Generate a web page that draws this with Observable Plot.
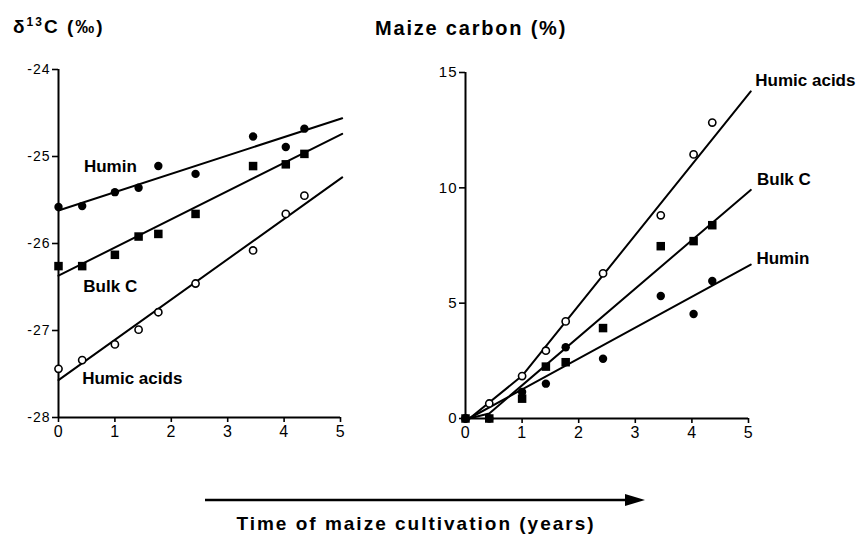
<!DOCTYPE html>
<html>
<head>
<meta charset="utf-8">
<script src="https://cdn.jsdelivr.net/npm/d3@7"></script>
<script src="https://cdn.jsdelivr.net/npm/@observablehq/plot@0.6"></script>
<style>
  html, body { margin: 0; padding: 0; background: #fff; }
  #wrap { position: relative; width: 861px; height: 538px; overflow: hidden; background: #fff; font-family: "Liberation Sans", Arial, Helvetica, sans-serif; }
  #left, #right, #overlay { position: absolute; top: 0; }
  #left { left: 0; }
  #right { left: 400px; }
  #overlay { left: 0; pointer-events: none; }
  g[aria-label="series-label"] text { letter-spacing: 0.8px; }
  g[aria-label="y-axis tick label"] text { letter-spacing: 1px; }
  g[aria-label="x-axis tick label"] text { letter-spacing: 0.6px; }
</style>
</head>
<body>
<div id="wrap">
  <div id="left"></div>
  <div id="right"></div>
  <svg id="overlay" width="861" height="538" xmlns="http://www.w3.org/2000/svg"></svg>
</div>
<script>
// ---- shared x values: time of maize cultivation (years)
const years = [0, 0.42, 1.0, 1.42, 1.77, 2.43, 3.45, 4.03, 4.36];
const xTicks = [0, 1, 2, 3, 4, 5];

// ---- left panel: delta 13C (per mille)
const d13cTicks = [-28, -27, -26, -25, -24];
const d13cHumin = [-25.58, -25.57, -25.41, -25.36, -25.11, -25.20, -24.77, -24.89, -24.68];
const d13cBulk = [-26.26, -26.26, -26.13, -25.92, -25.89, -25.66, -25.11, -25.09, -24.97];
const d13cHumic = [-27.44, -27.34, -27.16, -26.99, -26.79, -26.46, -26.08, -25.66, -25.45];
// fitted lines (x, y) end points
const d13cHuminFitX = [0, 5.03], d13cHuminFitY = [-25.62, -24.56];
const d13cBulkFitX = [0, 5.03], d13cBulkFitY = [-26.37, -24.74];
const d13cHumicFitX = [0, 5.03], d13cHumicFitY = [-27.57, -25.24];
const leftLabels = ["Humin", "Bulk C", "Humic acids"];
const leftLabelX = [0.45, 0.44, 0.42];
const leftLabelY = [-25.115, -26.494, -27.552];

// ---- right panel: maize carbon (%)
const maizeTicks = [0, 5, 10, 15];
const maizeHumin = [0, 0, 1.15, 1.51, 3.09, 2.59, 5.31, 4.53, 5.96];
const maizeBulk = [0, 0, 0.86, 2.25, 2.44, 3.92, 7.47, 7.69, 8.38];
const maizeHumic = [0, 0.65, 1.84, 2.94, 4.21, 6.29, 8.81, 11.45, 12.83];
const maizeHuminFitX = [0.06, 5.04], maizeHuminFitY = [0, 6.67];
const maizeBulkFitX = [0.06, 0.42, 5.04], maizeBulkFitY = [0, 0.22, 9.91];
const maizeHumicFitX = [0.07, 1.0, 5.04], maizeHumicFitY = [0, 1.85, 14.18];
const rightLabels = ["Humic acids", "Bulk C", "Humin"];
const rightLabelX = [5.12, 5.15, 5.14];
const rightLabelY = [14.65, 10.37, 6.93];

const zip = (xs, ys) => xs.map((x, i) => ({x, y: ys[i]}));
const labelRows = (names, xs, ys) => names.map((t, i) => ({t, x: xs[i], y: ys[i]}));

function panelMarks(opts) {
  const {yTicks, yFont, humin, bulk, humic, fits, labels, yBase} = opts;
  return [
    Plot.axisX({ticks: xTicks, tickSize: 5, tickPadding: 3, fontSize: 16, strokeWidth: 1.6, tickFormat: d => String(d), label: null, ariaLabel: "x-axis"}),
    Plot.axisY({ticks: yTicks, tickSize: 6, tickPadding: 2, fontSize: yFont, strokeWidth: 1.6, tickFormat: d => String(d), label: null, ariaLabel: "y-axis"}),
    Plot.ruleX([0], {stroke: "black", strokeWidth: 2}),
    Plot.ruleY([yBase], {stroke: "black", strokeWidth: 2}),
    ...fits.map(f => Plot.line(f, {x: "x", y: "y", stroke: "black", strokeWidth: 2})),
    Plot.dot(zip(years, humin), {x: "x", y: "y", r: 4.2, fill: "black"}),
    Plot.dot(zip(years, humic), {x: "x", y: "y", r: 3.6, fill: "white", stroke: "black", strokeWidth: 1.6}),
    Plot.dot(zip(years, bulk), {x: "x", y: "y", r: 4.8, symbol: "square", fill: "black"}),
    Plot.text(labels, {x: "x", y: "y", text: "t", textAnchor: "start", fontSize: 17, fontWeight: "bold", fill: "black", ariaLabel: "series-label"})
  ];
}

const left = Plot.plot({
  width: 360, height: 450,
  marginLeft: 58, marginRight: 20, marginTop: 69, marginBottom: 33,
  x: {domain: [0, 5]},
  y: {domain: [-28, -24]},
  style: {fontFamily: "'Liberation Sans', Arial, Helvetica, sans-serif", background: "transparent", color: "black"},
  marks: panelMarks({
    yTicks: d13cTicks, yFont: 14, yBase: -28,
    humin: d13cHumin, bulk: d13cBulk, humic: d13cHumic,
    fits: [zip(d13cHuminFitX, d13cHuminFitY), zip(d13cBulkFitX, d13cBulkFitY), zip(d13cHumicFitX, d13cHumicFitY)],
    labels: labelRows(leftLabels, leftLabelX, leftLabelY)
  })
});
document.getElementById("left").appendChild(left);

const right = Plot.plot({
  width: 461, height: 450,
  marginLeft: 65, marginRight: 113, marginTop: 72, marginBottom: 32,
  x: {domain: [0, 5]},
  y: {domain: [0, 15]},
  style: {fontFamily: "'Liberation Sans', Arial, Helvetica, sans-serif", background: "transparent", color: "black", overflow: "visible"},
  marks: panelMarks({
    yTicks: maizeTicks, yFont: 15, yBase: 0,
    humin: maizeHumin, bulk: maizeBulk, humic: maizeHumic,
    fits: [zip(maizeHuminFitX, maizeHuminFitY), zip(maizeBulkFitX, maizeBulkFitY), zip(maizeHumicFitX, maizeHumicFitY)],
    labels: labelRows(rightLabels, rightLabelX, rightLabelY)
  })
});
document.getElementById("right").appendChild(right);

// ---- overlay: titles, arrow and shared x label
const ov = d3.select("#overlay");
const fam = "'Liberation Sans', Arial, Helvetica, sans-serif";
const t1 = ov.append("text").attr("x", 13).attr("y", 33)
  .attr("font-family", fam).attr("font-weight", "bold").attr("font-size", 19)
  .attr("letter-spacing", "2px").attr("fill", "black");
t1.append("tspan").text("δ");
t1.append("tspan").attr("dy", -7).attr("font-size", 12).text("13");
t1.append("tspan").attr("dy", 7).text("C (‰)");

ov.append("text").attr("x", 375).attr("y", 35)
  .attr("font-family", fam).attr("font-weight", "bold").attr("font-size", 20)
  .attr("letter-spacing", "1.8px").attr("fill", "black")
  .text("Maize carbon (%)");

ov.append("line").attr("x1", 205).attr("x2", 628).attr("y1", 500).attr("y2", 500)
  .attr("stroke", "black").attr("stroke-width", 2.4);
ov.append("path").attr("d", "M645,500 L625,494 L625,506 Z").attr("fill", "black");

ov.append("text").attr("x", 416).attr("y", 530).attr("text-anchor", "middle")
  .attr("font-family", fam).attr("font-weight", "bold").attr("font-size", 19)
  .attr("letter-spacing", "2px").attr("fill", "black")
  .text("Time of maize cultivation (years)");
</script>
</body>
</html>
